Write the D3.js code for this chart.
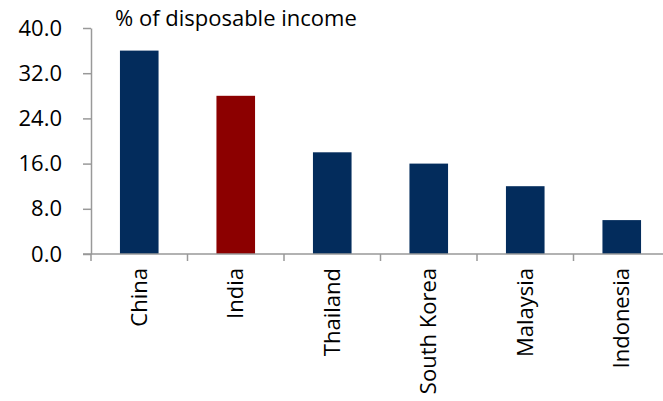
<!DOCTYPE html>
<html lang="en">
<head>
    <meta charset="UTF-8">
    <title>Disposable income chart</title>
    <script src="https://d3js.org/d3.v7.min.js"></script>
    <style>
        body { margin: 0; background: #fff; }
        svg text { font-family: "Open Sans", sans-serif; fill: #000; }
    </style>
</head>
<body>
<script>
    // data
    var countries = ["China", "India", "Thailand", "South Korea", "Malaysia", "Indonesia"];
    var shares = [36, 28, 18, 16, 12, 6];
    var highlight = ["India"];
    var yTicks = [0, 8, 16, 24, 32, 40];
    var unitLabel = "% of disposable income";

    var width = 663;
    var height = 401;
    var fontSize = 22;

    var svg = d3.select("body")
        .append("svg")
        .attr("width", width)
        .attr("height", height);

    var xScale = d3.scaleBand()
        .domain(countries)
        .range([91, 670])
        .paddingInner(0.6)
        .paddingOuter(0.3);

    var yScale = d3.scaleLinear()
        .domain([0, 40])
        .range([254, 28]);

    // bars
    svg.selectAll("rect.bar")
        .data(countries)
        .enter()
        .append("rect")
        .attr("class", "bar")
        .attr("x", d => xScale(d))
        .attr("width", xScale.bandwidth())
        .attr("y", (d, i) => yScale(shares[i]))
        .attr("height", (d, i) => yScale(0) - yScale(shares[i]))
        .attr("fill", d => highlight.indexOf(d) >= 0 ? "#8c0000" : "#032c5c");

    // y axis
    var yAxis = d3.axisLeft(yScale)
        .tickValues(yTicks)
        .tickFormat(d3.format(".1f"))
        .tickSizeInner(8)
        .tickSizeOuter(0)
        .tickPadding(21);
    var gy = svg.append("g")
        .attr("transform", "translate(91,0)")
        .call(yAxis);
    gy.selectAll("path, line").attr("stroke", "#999").attr("stroke-width", 1.5);
    gy.selectAll("text").style("font-size", fontSize + "px").attr("fill", "#000");

    // x axis line + ticks at band boundaries
    var boundaries = countries.map(d => xScale(d) + xScale.bandwidth() / 2 - xScale.step() / 2);
    boundaries.push(boundaries[boundaries.length - 1] + xScale.step());

    svg.append("line")
        .attr("x1", 83)
        .attr("x2", width)
        .attr("y1", yScale(0))
        .attr("y2", yScale(0))
        .attr("stroke", "#999")
        .attr("stroke-width", 1.5);

    svg.selectAll("line.xtick")
        .data(boundaries)
        .enter()
        .append("line")
        .attr("class", "xtick")
        .attr("x1", d => d)
        .attr("x2", d => d)
        .attr("y1", yScale(0))
        .attr("y2", yScale(0) + 7)
        .attr("stroke", "#999")
        .attr("stroke-width", 1.5);

    // category labels, rotated
    var xAxis = d3.axisBottom(xScale).tickSize(0);
    var gx = svg.append("g")
        .attr("transform", "translate(0," + yScale(0) + ")")
        .call(xAxis);
    gx.select(".domain").remove();
    gx.selectAll("text")
        .style("font-size", fontSize + "px")
        .attr("fill", "#000")
        .attr("text-anchor", "end")
        .attr("transform", "rotate(-90)")
        .attr("x", -14)
        .attr("y", 0)
        .attr("dy", "0.35em");

    // unit label
    svg.append("text")
        .attr("x", 115)
        .attr("y", 26)
        .style("font-size", fontSize + "px")
        .text(unitLabel);
</script>
</body>
</html>
